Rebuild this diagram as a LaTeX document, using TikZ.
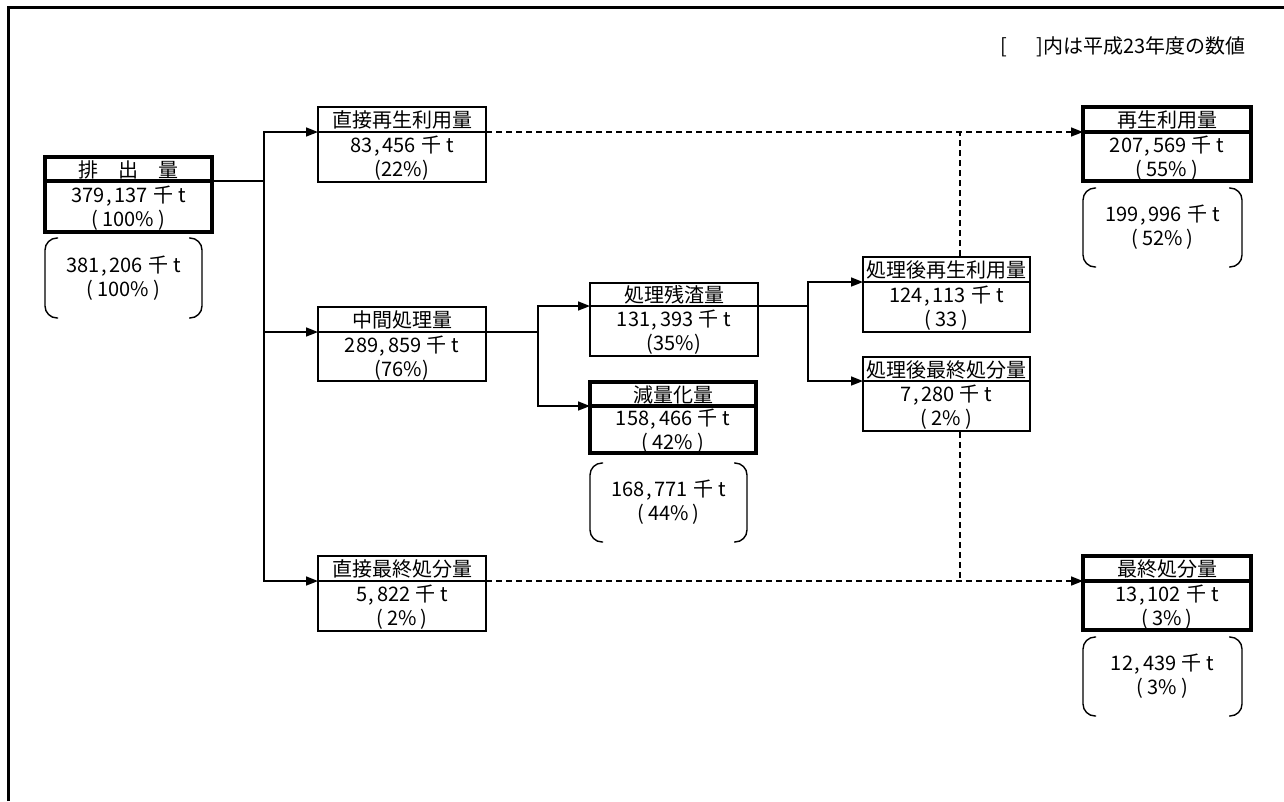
\documentclass[tikz,border=0pt]{standalone}
\usepackage{fontspec}
\setmainfont{Noto Sans CJK JP}
\usetikzlibrary{arrows.meta}
\tikzset{
  thinbox/.style={draw, line width=1.6pt},
  thickbox/.style={draw, line width=4pt},
  conn/.style={line width=1.6pt},
  flow/.style={conn, -{Triangle[length=12pt,width=9pt]}},
  dline/.style={conn, dash pattern=on 6pt off 4pt},
  dflow/.style={flow, dash pattern=on 6pt off 4pt},
  paren/.style={line width=1.4pt, rounded corners=12pt},
  txt/.style={font=\fontsize{20}{24}\selectfont, align=center, inner sep=0pt},
  ttl/.style={font=\fontsize{20}{22}\selectfont, align=center, inner sep=0pt},
  frame/.style={line width=3pt},
}
\newcommand{\cm}{\kern1.5pt,\kern3pt}
\newcommand{\kt}{\kern5pt 千\kern5pt t}
\newcommand{\pl}{(\kern4pt}
\newcommand{\pr}{\kern4pt)}
% name, style, x1, y1, x2, y2, divider y, title, body
\newcommand{\flowbox}[9]{%
  \node[#2, minimum width={#5pt-#3pt}, minimum height={#6pt-#4pt}, inner sep=0pt]
    (#1) at ({(#3+#5)/2},{(#4+#6)/2}) {};
  \draw[#2] (#3,#7) -- (#5,#7);
  \coordinate (#1-in) at (#3,#7);
  \coordinate (#1-out) at (#5,#7);
  \node[ttl] (#1-t) at ({(#3+#5)/2},{(#4+#7)/2+0.5}) {#8};
  \node[txt] (#1-b) at ({(#3+#5)/2},{(#7+#6)/2+1.5}) {#9};
}
% name, x1, y1, x2, y2, text
\newcommand{\parenbox}[6]{%
  \draw[paren] ({#2+13},#3) -- (#2,#3) -- (#2,#5) -- ({#2+13},#5);
  \draw[paren] ({#4-13},#3) -- (#4,#3) -- (#4,#5) -- ({#4-13},#5);
  \node[txt] (#1) at ({(#2+#4)/2},{(#3+#5)/2}) {#6};
}
\begin{document}
\begin{tikzpicture}[x=1pt, y=-1pt]
\useasboundingbox (0,0) rectangle (1284,801);
\draw[frame] (8,801) -- (8,7) -- (1284,7);

\node[ttl, anchor=east] (note) at (1246,47) {[\hspace{30pt}]内は平成23年度の数値};

\flowbox{emit}{thickbox}{45}{157}{212}{232}{181}{排　出　量}{379\cm137\kt\\\pl100\%\pr}
\parenbox{emitp}{45}{238}{202}{318}{381\cm206\kt\\\pl100\%\pr}

\flowbox{direct}{thinbox}{318}{107}{486}{182}{132}{直接再生利用量}{83\cm456\kt\\(22\%)}
\flowbox{mid}{thinbox}{318}{307}{486}{381}{332}{中間処理量}{289\cm859\kt\\(76\%)}
\flowbox{dfinal}{thinbox}{318}{556}{486}{631}{581}{直接最終処分量}{5\cm822\kt\\\pl2\%\pr}

\flowbox{resid}{thinbox}{590}{283}{758}{356}{306}{処理残渣量}{131\cm393\kt\\(35\%)}
\flowbox{reduce}{thickbox}{590}{382}{756}{453}{406}{減量化量}{158\cm466\kt\\\pl42\%\pr}
\parenbox{reducep}{590}{463}{747}{542}{168\cm771\kt\\\pl44\%\pr}

\flowbox{prec}{thinbox}{863}{257}{1030}{332}{282}{処理後再生利用量}{124\cm113\kt\\\pl33\pr}
\flowbox{pfin}{thinbox}{863}{357}{1030}{431}{381}{処理後最終処分量}{7\cm280\kt\\\pl2\%\pr}

\flowbox{recyc}{thickbox}{1083}{107}{1251}{181}{132}{再生利用量}{207\cm569\kt\\\pl55\%\pr}
\parenbox{recycp}{1083}{188}{1242}{267}{199\cm996\kt\\\pl52\%\pr}
\flowbox{final}{thickbox}{1083}{556}{1251}{630}{581}{最終処分量}{13\cm102\kt\\\pl3\%\pr}
\parenbox{finalp}{1083}{637}{1242}{716}{12\cm439\kt\\\pl3\%\pr}

% solid connectors
\coordinate (j1) at (264,181);
\draw[conn] (emit-out) -- (j1);
\draw[flow] (j1) |- (direct-in);
\draw[flow] (j1) |- (mid-in);
\draw[flow] (j1) |- (dfinal-in);

\coordinate (j2) at (538,332);
\draw[conn] (mid-out) -- (j2);
\draw[flow] (j2) |- (resid-in);
\draw[flow] (j2) |- (reduce-in);

\coordinate (j3) at (808,306);
\draw[conn] (resid-out) -- (j3);
\draw[flow] (j3) |- (prec-in);
\draw[flow] (j3) |- (pfin-in);

% dashed connectors
\draw[dflow] (direct-out) -- (recyc-in);
\draw[dflow] (dfinal-out) -- (final-in);
\coordinate (d1) at (960,132);
\coordinate (d2) at (960,581);
\draw[dline] (prec.north -| d1) -- (d1);
\draw[dline] (pfin.south -| d2) -- (d2);
\end{tikzpicture}
\end{document}
